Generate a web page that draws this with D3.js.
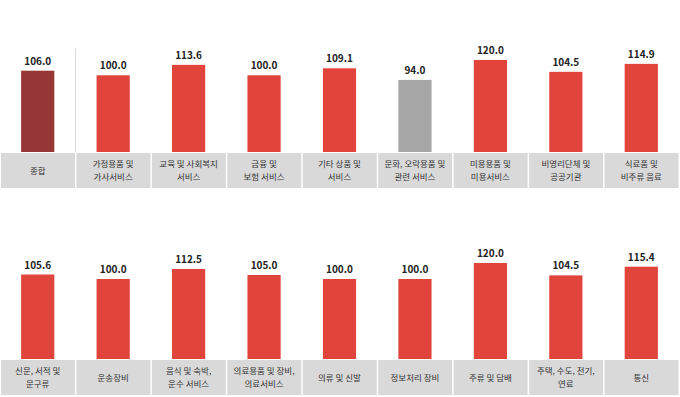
<!DOCTYPE html>
<html>
<head>
<meta charset="utf-8">
<script src="https://cdn.jsdelivr.net/npm/d3@7/dist/d3.min.js"></script>
<style>
  body { margin: 0; background: #fff; }
  svg { display: block; font-family: "Noto Sans CJK KR", "Noto Sans", sans-serif; }
</style>
</head>
<body>
<svg id="chart"></svg>
<script>
const width = 680;
const height = 397;

// top row
const topCategories = ["종합", "가정용품 및|가사서비스", "교육 및 사회복지|서비스", "금융 및|보험 서비스",
  "기타 상품 및|서비스", "문화, 오락용품 및|관련 서비스", "미용용품 및|미용서비스", "비영리단체 및|공공기관", "식료품 및|비주류 음료"];
const topValues = [106.0, 100.0, 113.6, 100.0, 109.1, 94.0, 120.0, 104.5, 114.9];
const topColors = ["#973735", "#e0443a", "#e0443a", "#e0443a", "#e0443a", "#a6a6a6", "#e0443a", "#e0443a", "#e0443a"];

// bottom row
const bottomCategories = ["신문, 서적 및|문구류", "운송장비", "음식 및 숙박,|운수 서비스", "의료용품 및 장비,|의료서비스",
  "의류 및 신발", "정보처리 장비", "주류 및 담배", "주택, 수도, 전기,|연료", "통신"];
const bottomValues = [105.6, 100.0, 112.5, 105.0, 100.0, 100.0, 120.0, 104.5, 115.4];
const bottomColors = ["#e0443a", "#e0443a", "#e0443a", "#e0443a", "#e0443a", "#e0443a", "#e0443a", "#e0443a", "#e0443a"];

const svg = d3.select("#chart")
  .attr("width", width)
  .attr("height", height);

function drawPanel(categories, values, colors, baseY, pxPerUnit, boxH, separator) {
  const x = d3.scaleBand()
    .domain(categories)
    .range([0, 679]);

  const y = d3.scaleLinear()
    .domain([0, 130])
    .range([baseY, baseY - 130 * pxPerUnit]);

  const barW = x.bandwidth() * 0.44;
  const g = svg.append("g");

  // label boxes
  g.selectAll("rect.box")
    .data(categories)
    .enter().append("rect")
    .attr("class", "box")
    .attr("x", d => x(d) + 1)
    .attr("y", baseY + 1)
    .attr("width", x.bandwidth() - 1.5)
    .attr("height", boxH)
    .attr("fill", "#d9d9d9");

  // category labels, one text per line
  categories.forEach(d => {
    const lines = d.split("|");
    const cx = x(d) + x.bandwidth() / 2;
    const cy = baseY + 1 + boxH / 2;
    lines.forEach((line, i) => {
      g.append("text")
        .attr("class", "cat")
        .attr("text-anchor", "middle")
        .attr("font-size", "8.5px")
        .attr("fill", "#333")
        .attr("x", cx)
        .attr("y", cy + 3 + (i - (lines.length - 1) / 2) * 12.5)
        .text(line);
    });
  });

  if (separator) {
    g.append("line")
      .attr("x1", x.step()).attr("x2", x.step())
      .attr("y1", baseY - 103).attr("y2", baseY)
      .attr("stroke", "#d9d9d9")
      .attr("stroke-width", 1);
  }

  g.selectAll("rect.bar")
    .data(values)
    .enter().append("rect")
    .attr("class", "bar")
    .attr("x", (d, i) => x(categories[i]) + (x.bandwidth() - barW) / 2)
    .attr("y", d => y(d))
    .attr("width", barW)
    .attr("height", d => baseY - y(d))
    .attr("fill", (d, i) => colors[i]);

  g.selectAll("text.val")
    .data(values)
    .enter().append("text")
    .attr("class", "val")
    .attr("text-anchor", "middle")
    .attr("font-size", "10px")
    .attr("font-weight", "bold")
    .attr("fill", "#222")
    .attr("x", (d, i) => x(categories[i]) + x.bandwidth() / 2)
    .attr("y", d => y(d) - 6)
    .text(d => d.toFixed(1));
}

drawPanel(topCategories, topValues, topColors, 152, 0.767, 35, true);
drawPanel(bottomCategories, bottomValues, bottomColors, 359, 0.8, 35, false);
</script>
</body>
</html>
